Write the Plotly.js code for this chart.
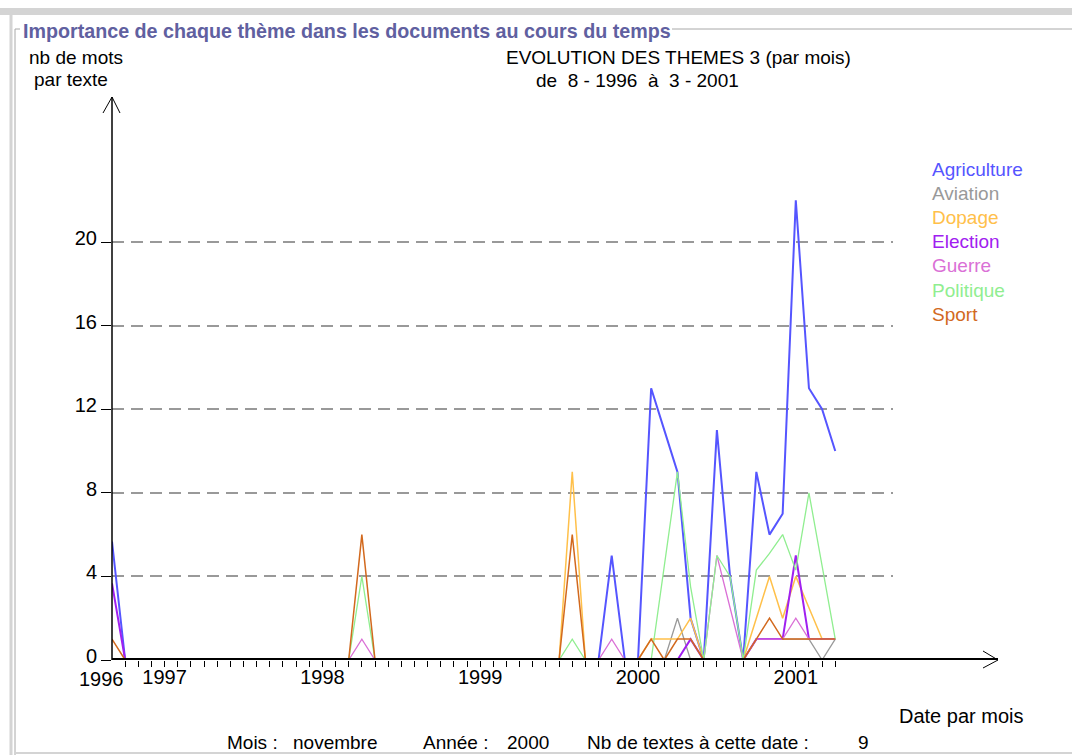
<!DOCTYPE html>
<html>
<head>
<meta charset="utf-8">
<script src="https://cdn.plot.ly/plotly-3.0.1.min.js"></script>
<style>
html,body{margin:0;padding:0;background:#fff;}
#chart{width:1072px;height:755px;}
</style>
</head>
<body>
<div id="chart"></div>
<script>
// ---- DATA (monthly, 8-1996 .. 3-2001) ----
const months = [
  "8-1996","9-1996","10-1996","11-1996","12-1996",
  "1-1997","2-1997","3-1997","4-1997","5-1997","6-1997","7-1997","8-1997","9-1997","10-1997","11-1997","12-1997",
  "1-1998","2-1998","3-1998","4-1998","5-1998","6-1998","7-1998","8-1998","9-1998","10-1998","11-1998","12-1998",
  "1-1999","2-1999","3-1999","4-1999","5-1999","6-1999","7-1999","8-1999","9-1999","10-1999","11-1999","12-1999",
  "1-2000","2-2000","3-2000","4-2000","5-2000","6-2000","7-2000","8-2000","9-2000","10-2000","11-2000","12-2000",
  "1-2001","2-2001","3-2001"
];
const themes = ["Agriculture","Aviation","Dopage","Election","Guerre","Politique","Sport"];
const agriculture = [5.67,0,0,0,0,0,0,0,0,0,0,0,0,0, 0,0,0,0,0,0,0,0,0,0,0,0,0,0, 0,0,0,0,0,0,0,0,0,0,5,0,0,13, 11,9,2,0,11,4,0,9,6,7,22,13,12,10];
const aviation    = [0,0,0,0,0,0,0,0,0,0,0,0,0,0, 0,0,0,0,0,0,0,0,0,0,0,0,0,0, 0,0,0,0,0,0,0,0,0,0,0,0,0,0, 0,2,0,0,0,0,0,1,1,1,1,1,0,1];
const dopage      = [0,0,0,0,0,0,0,0,0,0,0,0,0,0, 0,0,0,0,0,0,0,0,0,0,0,0,0,0, 0,0,0,0,0,0,0,9,0,0,0,0,0,1, 1,1,2,0,0,0,0,2,4,2,4,2.5,1,1];
const election    = [3.67,0,0,0,0,0,0,0,0,0,0,0,0,0, 0,0,0,0,0,0,0,0,0,0,0,0,0,0, 0,0,0,0,0,0,0,0,0,0,0,0,0,0, 0,0,1,0,0,0,0,1,1,1,5,1,1,1];
const guerre      = [0,0,0,0,0,0,0,0,0,0,0,0,0,0, 0,0,0,0,0,1,0,0,0,0,0,0,0,0, 0,0,0,0,0,0,0,0,0,0,1,0,0,0, 0,0,0,0,5,2.5,0,1,1,1,2,1,1,1];
const politique   = [0,0,0,0,0,0,0,0,0,0,0,0,0,0, 0,0,0,0,0,4,0,0,0,0,0,0,0,0, 0,0,0,0,0,0,0,1,0,0,0,0,0,0, 4.5,9,3.5,0,5,4,0,4.3,5.1,6,4.3,8,4.5,1];
const sport       = [1,0,0,0,0,0,0,0,0,0,0,0,0,0, 0,0,0,0,0,6,0,0,0,0,0,0,0,0, 0,0,0,0,0,0,0,6,0,0,0,0,0,1, 0,1,1,0,0,0,0,1,2,1,1,1,1,1];
const yearLabels = ["1997","1998","1999","2000","2001"];
const yearLabelMonths = ["12-1996","12-1997","12-1998","12-1999","12-2000"];
const firstYearLabel = "1996";
const yTicks = [0,4,8,12,16,20];

// ---- STYLE ----
const colors = ["#5555ff","#999999","#ffc04a","#a020f0","#da70d6","#90ee90","#d2691e"];
const widths = [2,1.3,1.5,2,1.3,1.3,1.5];
const FONT = "Liberation Sans, Arial, Helvetica, sans-serif";
const series = [agriculture,aviation,dopage,election,guerre,politique,sport];

const xIdx = months.map((m,i)=>i);
const traces = series.map((vals,k)=>({
  type:"scatter", mode:"lines", x:xIdx, y:vals, name:themes[k],
  line:{color:colors[k], width:widths[k]}, showlegend:false, hoverinfo:"skip"
}));

// plot area in pixels
const L=112, T=97, W=781, H=563;
const px = x => (x-L)/W;
const py = y => (T+H-y)/H;

const tickvals = xIdx.slice(1);
const ticktext = tickvals.map(i=>{
  const j = yearLabelMonths.indexOf(months[i]);
  return j>=0 ? yearLabels[j] : "";
});

function ann(text,x,y,opts){
  return Object.assign({text:text, xref:"paper", yref:"paper", x:px(x), y:py(y),
    xanchor:"left", yanchor:"middle", showarrow:false,
    font:{family:FONT,size:19,color:"#000"}}, opts||{});
}
const annotations = [
  ann("<b>Importance de chaque thème dans les documents au cours du temps</b>",21,31,{font:{family:FONT,size:19.7,color:"#6060a0"}}),
  ann("nb de mots",27,57),
  ann("par texte",32,80),
  ann("EVOLUTION DES THEMES 3 (par mois)",504,57),
  ann("de\u00a0\u00a08\u00a0-\u00a01996\u00a0\u00a0à\u00a0\u00a03\u00a0-\u00a02001",534,81),
  ann("Date par mois",897,716,{font:{family:FONT,size:20,color:"#000"}}),
  ann("Mois :",225,742),
  ann("novembre",291,742),
  ann("Année :",421,742),
  ann("2000",505,742),
  ann("Nb de textes à cette date :",585,742),
  ann("9",856,742),
  ann(firstYearLabel,101,679,{xanchor:"center", font:{family:FONT,size:20,color:"#000"}})
];
themes.forEach((t,k)=>annotations.push(ann(t,930,169+24.2*k,{font:{family:FONT,size:19,color:colors[k]}})));

function line(x0,y0,x1,y1,color,w){
  return {type:"line", xref:"paper", yref:"paper", x0:px(x0), y0:py(y0), x1:px(x1), y1:py(y1),
    line:{color:color, width:w}, layer:"above"};
}
const shapes = [
  // window frame
  {type:"rect", xref:"paper", yref:"paper", x0:px(0), x1:px(1072), y0:py(8), y1:py(15),
   fillcolor:"#d4d4d4", line:{width:0}, layer:"below"},
  line(11,15,11,755,"#d4d4d4",3),
  line(15,29,15,755,"#a8a8a8",1),
  line(15,29,20,29,"#a8a8a8",1),
  line(672,29,1072,29,"#a8a8a8",1),
  line(16,753,1072,753,"#d4d4d4",2),
  // axes
  line(112,660,112,97,"#000",1.5),
  line(112,97,103,113,"#000",1),
  line(112,97,120,113,"#000",1),
  line(112,659,998,659,"#000",2),
  line(998,660,983,651,"#000",1),
  line(998,660,983,668,"#000",1)
];

const layout = {
  width:1072, height:755,
  margin:{l:L, r:1072-L-W, t:T, b:755-T-H, pad:0},
  paper_bgcolor:"#fff", plot_bgcolor:"#fff",
  showlegend:false,
  xaxis:{range:[0,W/13.15], showgrid:false, zeroline:false, showline:false,
    tickmode:"array", tickvals:tickvals, ticktext:ticktext,
    ticks:"outside", ticklen:6, tickwidth:1, tickcolor:"#000", ticklabelstandoff:-7,
    tickfont:{family:FONT,size:20,color:"#000"}, fixedrange:true},
  yaxis:{range:[0,H/20.9], showgrid:true, gridcolor:"#999", gridwidth:2, griddash:"12px,7px",
    zeroline:false, showline:false, tickmode:"array", tickvals:yTicks,
    ticks:"outside", ticklen:10, tickwidth:1, tickcolor:"#000", ticklabelshift:-4,
    tickfont:{family:FONT,size:20,color:"#000"}, fixedrange:true},
  annotations:annotations, shapes:shapes
};
Plotly.newPlot("chart", traces, layout, {displayModeBar:false, staticPlot:true});
</script>
</body>
</html>
